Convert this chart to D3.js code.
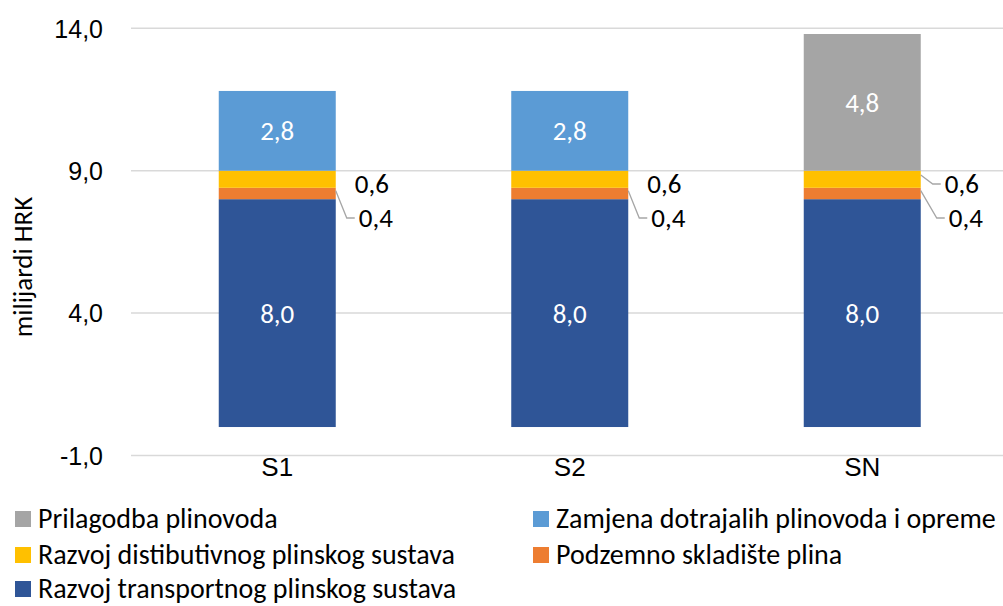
<!DOCTYPE html>
<html>
<head>
<meta charset="utf-8">
<script src="https://cdn.jsdelivr.net/npm/d3@7"></script>
<style>
  html, body { margin: 0; padding: 0; background: #fff; }
  svg { display: block; font-family: Carlito, Lato, "Open Sans", sans-serif; }
</style>
</head>
<body>
<svg id="chart" width="1003" height="606"></svg>
<script>
// Scenarios and investment components (billions HRK)
const categories = ["S1", "S2", "SN"];
const seriesNames = [
  "Razvoj transportnog plinskog sustava",
  "Podzemno skladište plina",
  "Razvoj distibutivnog plinskog sustava",
  "Zamjena dotrajalih plinovoda i opreme",
  "Prilagodba plinovoda"
];
const transport = [8.0, 8.0, 8.0];
const storage = [0.4, 0.4, 0.4];
const distribution = [0.6, 0.6, 0.6];
const replacement = [2.8, 2.8, 0];
const adaptation = [0, 0, 4.8];
const yTicks = [-1, 4, 9, 14];
const colors = ["#2F5597", "#ED7D31", "#FFC000", "#5B9BD5", "#A5A5A5"];

const seriesValues = [transport, storage, distribution, replacement, adaptation];
const rows = categories.map((c, i) => {
  const r = { cat: c };
  seriesNames.forEach((s, k) => { r[s] = seriesValues[k][i]; });
  return r;
});

const svg = d3.select("#chart");
const x = d3.scaleBand().domain(categories).range([131, 1008.5]).paddingInner(0.6).paddingOuter(0.3);
const y = d3.scaleLinear().domain([-1, 14]).range([455.5, 28.3]);
// decimal comma, plain hyphen for negatives
const fmt = v => d3.format(".1f")(v).replace(".", ",").replace("\u2212", "-");

// gridlines
svg.append("g").selectAll("line").data(yTicks).join("line")
  .attr("x1", 131).attr("x2", 1003)
  .attr("y1", d => y(d)).attr("y2", d => y(d))
  .attr("stroke", "#d9d9d9").attr("stroke-width", 1.5);

// y axis labels
const yAxis = d3.axisLeft(y).tickValues(yTicks).tickFormat(fmt).tickSize(0).tickPadding(0);
const gy = svg.append("g").attr("transform", "translate(103,0)").call(yAxis);
gy.select(".domain").remove();
gy.selectAll("text").attr("font-family", null).attr("font-size", 25).attr("fill", "#000").attr("dy", "0.35em");

// x axis labels
const xAxis = d3.axisBottom(x).tickSize(0).tickPadding(0);
const gx = svg.append("g").attr("transform", "translate(0,467)").call(xAxis);
gx.select(".domain").remove();
gx.selectAll("text").attr("font-family", null).attr("font-size", 26).attr("fill", "#000").attr("dy", "0.35em");

// y axis title
svg.append("text")
  .attr("transform", "translate(23,267) rotate(-90)")
  .attr("text-anchor", "middle").attr("dy", "0.35em")
  .attr("font-size", 27).attr("fill", "#000")
  .text("milijardi HRK");

// stacked bars
const stack = d3.stack().keys(seriesNames);
const layers = stack(rows);
const gBars = svg.append("g");
layers.forEach((layer, k) => {
  gBars.append("g").attr("fill", colors[k]).selectAll("rect")
    .data(layer.filter(d => d[1] - d[0] > 0)).join("rect")
    .attr("x", d => x(d.data.cat))
    .attr("width", x.bandwidth())
    .attr("y", d => y(d[1]))
    .attr("height", d => y(d[0]) - y(d[1]));
});

// data labels
const gLab = svg.append("g").attr("font-size", 27);
// inside labels (white) for the large segments
[0, 3, 4].forEach(k => {
  layers[k].filter(d => d[1] - d[0] > 0).forEach(d => {
    gLab.append("text")
      .attr("x", x(d.data.cat) + x.bandwidth() / 2)
      .attr("y", y((d[0] + d[1]) / 2))
      .attr("text-anchor", "middle").attr("dy", "0.35em")
      .attr("fill", "#fff")
      .text(fmt(d[1] - d[0]));
  });
});

// outside labels with leader lines for the thin segments
const outside = [
  // [series index, category, label x offset from bar edge, label y, leader?]
  [2, "S1", 19, 184, false], [1, "S1", 23, 218, true],
  [2, "S2", 19, 184, false], [1, "S2", 23, 218, true],
  [2, "SN", 24, 184, true],  [1, "SN", 28, 218, true]
];
outside.forEach(([k, cat, dx, ly, leader]) => {
  const d = layers[k].find(e => e.data.cat === cat);
  const edge = x(cat) + x.bandwidth();
  const lx = edge + dx;
  if (leader) {
    const sy = y(d[0]) - (y(d[0]) - y(d[1])) * 0.75;
    svg.append("polyline")
      .attr("points", [[edge, sy], [lx - 12, ly], [lx - 4, ly]].map(p => p.join(",")).join(" "))
      .attr("fill", "none").attr("stroke", "#a6a6a6").attr("stroke-width", 1.3);
  }
  gLab.append("text")
    .attr("x", lx).attr("y", ly).attr("dy", "0.35em")
    .attr("fill", "#000")
    .text(fmt(d[1] - d[0]));
});

// legend
const legendItems = [
  [4, 15, 519], [3, 533, 519],
  [2, 15, 555], [1, 533, 555],
  [0, 15, 589]
];
const gLeg = svg.append("g").attr("font-size", 28);
legendItems.forEach(([k, lx, ly]) => {
  gLeg.append("rect").attr("x", lx).attr("y", ly - 8).attr("width", 16).attr("height", 16).attr("fill", colors[k]);
  gLeg.append("text").attr("x", lx + 23).attr("y", ly).attr("dy", "0.33em").attr("fill", "#000").text(seriesNames[k]);
});
</script>
</body>
</html>
